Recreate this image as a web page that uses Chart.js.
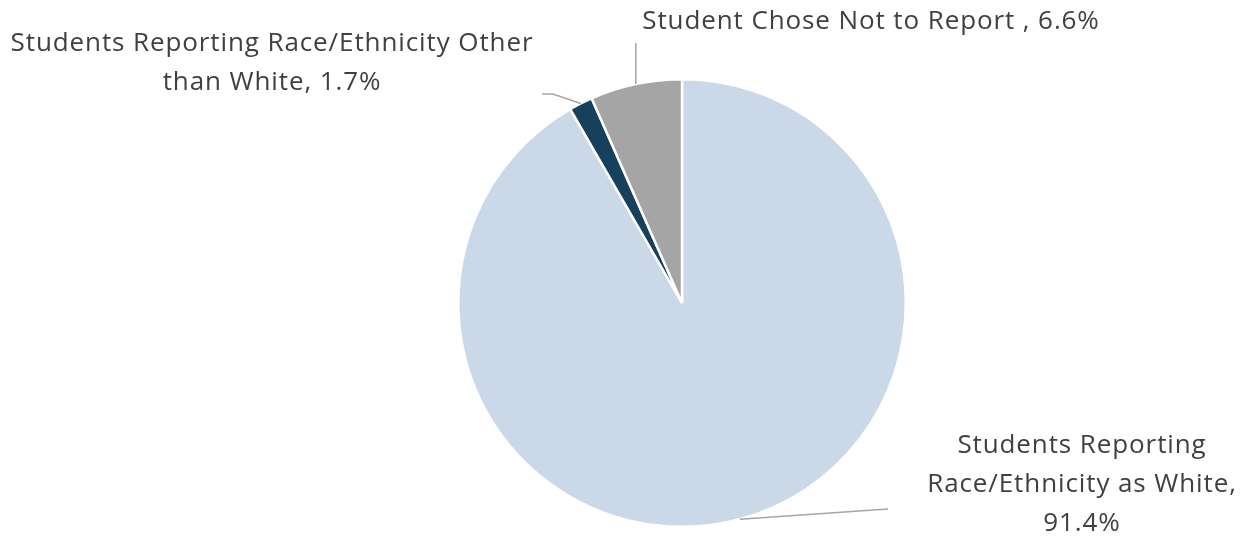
<!DOCTYPE html>
<html>
<head>
<meta charset="utf-8">
<script src="https://cdn.jsdelivr.net/npm/chart.js@4.4.1/dist/chart.umd.min.js"></script>
<style>
  html, body { margin: 0; padding: 0; background: #ffffff; }
  #wrap { width: 1248px; height: 540px; position: relative; }
</style>
</head>
<body>
<div id="wrap"><canvas id="c" width="1248" height="540"></canvas></div>
<script>
// ---- data ----
const categories = [
  "Students Reporting Race/Ethnicity as White",
  "Students Reporting Race/Ethnicity Other than White",
  "Student Chose Not to Report "
];
const values = [91.4, 1.7, 6.6];
const labelLines = [
  ["Students Reporting", "Race/Ethnicity as White,", "91.4%"],
  ["Students Reporting Race/Ethnicity Other", "than White, 1.7%"],
  ["Student Chose Not to Report , 6.6%"]
];
const colors = ["#CBD8E7", "#17405C", "#A5A5A5"];

// ---- label layout (positions of label text & leader bends) ----
const labelLayout = [
  { cx: 1082, cy: 446, bend: [[888, 509]] },
  { cx: 272, cy: 44, bend: [[553, 94], [542, 94]] },
  { cx: 871, cy: 22, bend: [[null, 43]] }
];

const FONT = '26px "Open Sans", "Liberation Sans", sans-serif';
const LINE_H = 39;

const labelPlugin = {
  id: 'pieLabels',
  afterDatasetsDraw(chart) {
    const ctx = chart.ctx;
    const meta = chart.getDatasetMeta(0);
    ctx.save();
    meta.data.forEach((arc, i) => {
      const p = arc.getProps(['x', 'y', 'startAngle', 'endAngle', 'outerRadius'], true);
      const mid = (p.startAngle + p.endAngle) / 2;
      const sx = p.x + Math.cos(mid) * p.outerRadius;
      const sy = p.y + Math.sin(mid) * p.outerRadius;
      const L = labelLayout[i];
      ctx.strokeStyle = '#A6A6A6';
      ctx.lineWidth = 1.5;
      ctx.beginPath();
      ctx.moveTo(sx, sy);
      L.bend.forEach(([bx, by]) => ctx.lineTo(bx === null ? sx : bx, by));
      ctx.stroke();
      ctx.fillStyle = '#404040';
      ctx.font = FONT;
      if ('letterSpacing' in ctx) ctx.letterSpacing = '0.9px';
      ctx.textAlign = 'center';
      ctx.textBaseline = 'middle';
      labelLines[i].forEach((t, k) => ctx.fillText(t, L.cx, L.cy + k * LINE_H));
    });
    ctx.restore();
  }
};

new Chart(document.getElementById('c'), {
  type: 'pie',
  data: {
    labels: categories,
    datasets: [{
      data: values,
      backgroundColor: colors,
      borderColor: '#ffffff',
      borderWidth: 2.5
    }]
  },
  options: {
    responsive: false,
    animation: false,
    layout: { padding: { left: 457, right: 341, top: 78, bottom: 12 } },
    plugins: {
      legend: { display: false },
      tooltip: { enabled: false }
    }
  },
  plugins: [labelPlugin]
});
</script>
</body>
</html>
